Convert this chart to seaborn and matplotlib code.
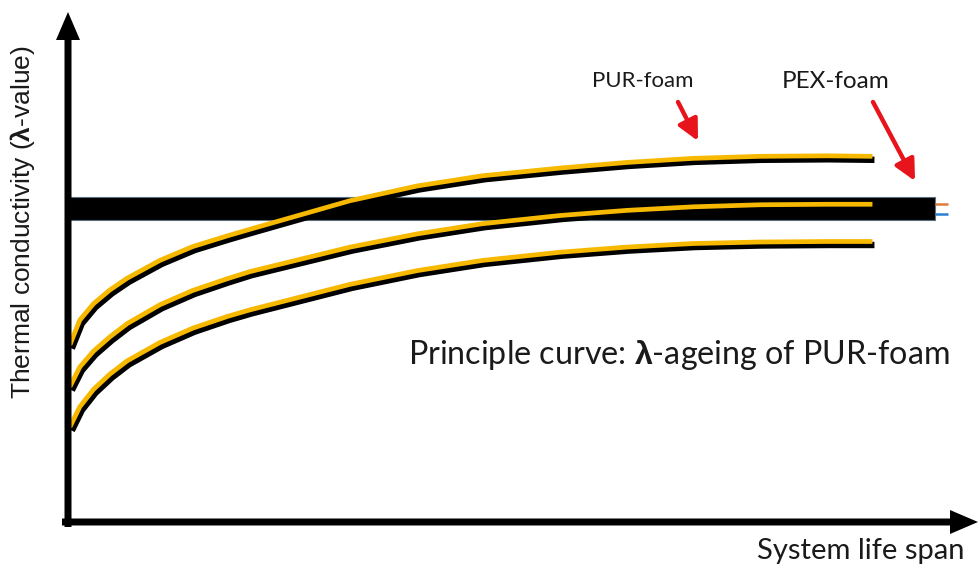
import matplotlib
matplotlib.use("Agg")
import matplotlib.pyplot as plt
import matplotlib.transforms as mtransforms
from matplotlib.patches import FancyArrow
import seaborn as sns
import pandas as pd

# ---- data (abstract units: system life span 0..100, lambda 0..100) ----
time = [0.2, 1.3, 2.8, 4.6, 6.5, 10.1, 13.7, 17.5, 20.0, 31.0, 38.4, 45.6,
        54.1, 61.4, 68.7, 76.0, 83.4, 88.4]
lam_top = [34.7, 39.6, 42.8, 45.5, 47.8, 51.3, 54.0, 56.1, 57.4, 63.0, 65.9, 67.9,
           69.4, 70.5, 71.3, 71.7, 71.8, 71.7]
lam_mid = [26.5, 30.4, 33.5, 36.3, 38.9, 42.6, 45.4, 47.7, 49.1, 53.9, 56.5, 58.5,
           60.1, 61.1, 61.8, 62.2, 62.3, 62.3]
lam_bot = [18.6, 22.6, 26.0, 29.0, 31.6, 35.2, 38.0, 40.3, 41.6, 46.6, 49.3, 51.3,
           52.9, 53.9, 54.6, 54.9, 55.0, 55.0]
pex_lam_low, pex_lam_high = 59.2, 63.7
pex_end = 95.3

df = pd.concat([
    pd.DataFrame({"time": time, "lam": lam_top, "curve": "top"}),
    pd.DataFrame({"time": time, "lam": lam_mid, "curve": "mid"}),
    pd.DataFrame({"time": time, "lam": lam_bot, "curve": "bot"}),
])

sns.set_theme(style="white")
plt.rcParams["mathtext.fontset"] = "custom"
plt.rcParams["mathtext.bf"] = "Liberation Sans:bold"
plt.rcParams["mathtext.rm"] = "Liberation Sans"

W, H = 979, 566
fig = plt.figure(figsize=(W / 100, H / 100), dpi=100)
# axes region: x px 68..978, y px 12..522
ax = fig.add_axes([68 / W, (H - 522) / H, (978 - 68) / W, (522 - 12) / H])

# PEX bar
ax.fill_between([0, pex_end], pex_lam_low, pex_lam_high, color="black", zorder=2,
                lw=0.8, edgecolor="#5a7080")
pex_mid = (pex_lam_low + pex_lam_high) / 2
ax.plot([pex_end, pex_end + 1.4], [pex_mid + 0.9, pex_mid + 0.9], color="#e07b39", lw=1.8,
        zorder=2, solid_capstyle="butt")
ax.plot([pex_end, pex_end + 1.4], [pex_mid - 1.0, pex_mid - 1.0], color="#2a7fd0", lw=1.8,
        zorder=2, solid_capstyle="butt")

# black under-curves
n0 = len(ax.lines)
sns.lineplot(data=df, x="time", y="lam", hue="curve", units="curve", estimator=None,
             palette={"top": "black", "mid": "black", "bot": "black"}, lw=4.6,
             legend=False, ax=ax, zorder=3, sort=False)
off = mtransforms.offset_copy(ax.transData, fig=fig, x=2.0, y=-3.5, units="dots")
for ln in ax.lines[n0:]:
    ln.set_transform(off)
    ln.set_solid_capstyle("butt")
    ln.set_solid_joinstyle("round")
n1 = len(ax.lines)
sns.lineplot(data=df, x="time", y="lam", hue="curve", units="curve", estimator=None,
             palette={"top": "#f7b800", "mid": "#f7b800", "bot": "#f7b800"}, lw=3.4,
             legend=False, ax=ax, zorder=4, sort=False)
for ln in ax.lines[n1:]:
    ln.set_solid_capstyle("butt")
    ln.set_solid_joinstyle("round")
ax.set_xlim(0, 100)
ax.set_ylim(0, 100)
ax.axis("off")


def px(x, y):
    return (x / W, 1 - y / H)


# axis arrows (figure fraction coords)
fig.add_artist(FancyArrow(68 / W, 1 - 527 / H, 0, (527 - 40) / H, width=7 / W,
                          head_width=24 / W, head_length=28 / H, length_includes_head=False,
                          color="black", lw=0, transform=fig.transFigure))
fig.add_artist(FancyArrow(62 / W, 1 - 522 / H, (950 - 62) / W, 0, width=7 / H,
                          head_width=24 / H, head_length=28 / W, length_includes_head=False,
                          color="black", lw=0, transform=fig.transFigure))

# red pointer arrows
red = dict(arrowstyle="-|>,head_width=0.45,head_length=0.9", color="#e8141c", lw=3.2,
           shrinkA=0, shrinkB=0, mutation_scale=14)
ax.annotate("", xy=px(698, 141), xytext=px(678, 102), xycoords="figure fraction",
            textcoords="figure fraction", arrowprops=red)
ax.annotate("", xy=px(915, 181), xytext=px(873, 102), xycoords="figure fraction",
            textcoords="figure fraction", arrowprops=red)

# texts
tfont = "Lato"
tc = "#1a1a1a"
fig.text(*px(643, 81), "PUR-foam", ha="center", va="center", fontsize=16, family=tfont, color=tc)
fig.text(*px(836, 81), "PEX-foam", ha="center", va="center", fontsize=17.5, family=tfont, color=tc)
fig.text(*px(408, 355), r"Principle curve: $\mathbf{λ}$-ageing of PUR-foam", ha="left", va="center",
         fontsize=23.2, family=tfont, color=tc)
fig.text(*px(965, 551), "System life span", ha="right", va="center", fontsize=21, family=tfont, color=tc)
fig.text(*px(23, 222), r"Thermal conductivity ($\mathbf{λ}$-value)", ha="center", va="center",
         rotation=90, fontsize=19, family="Liberation Sans", color=tc)

fig.savefig("out.png", dpi=100, facecolor="white")
